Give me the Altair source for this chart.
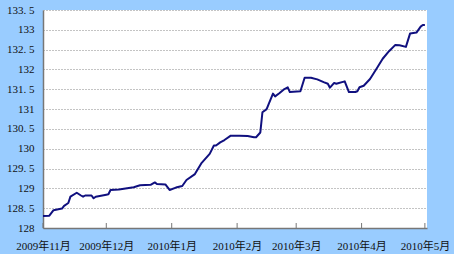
import altair as alt
import pandas as pd

dates = [
    "2009-11-01", "2009-11-04", "2009-11-06", "2009-11-10", "2009-11-11", "2009-11-13",
    "2009-11-14", "2009-11-17", "2009-11-19", "2009-11-20", "2009-11-21", "2009-11-24",
    "2009-11-25", "2009-11-26", "2009-12-01", "2009-12-02", "2009-12-03", "2009-12-07",
    "2009-12-14", "2009-12-17", "2009-12-22", "2009-12-24", "2009-12-25", "2009-12-29",
    "2009-12-31", "2010-01-03", "2010-01-06", "2010-01-08", "2010-01-12", "2010-01-15",
    "2010-01-19", "2010-01-21", "2010-01-22", "2010-01-24", "2010-01-26", "2010-01-29",
    "2010-02-02", "2010-02-06", "2010-02-09", "2010-02-10", "2010-02-12", "2010-02-13",
    "2010-02-15", "2010-02-16", "2010-02-18", "2010-02-19", "2010-02-21", "2010-02-23",
    "2010-02-25", "2010-02-26", "2010-03-03", "2010-03-05", "2010-03-08", "2010-03-11",
    "2010-03-14", "2010-03-16", "2010-03-17", "2010-03-19", "2010-03-20", "2010-03-24",
    "2010-03-26", "2010-03-29", "2010-03-30", "2010-03-31", "2010-04-02", "2010-04-05",
    "2010-04-08", "2010-04-11", "2010-04-14", "2010-04-17", "2010-04-19", "2010-04-22",
    "2010-04-24", "2010-04-27", "2010-04-29", "2010-04-30", "2010-05-01",
]
values = [
    128.30, 128.31, 128.45, 128.49, 128.56, 128.63,
    128.79, 128.89, 128.82, 128.79, 128.82, 128.82,
    128.75, 128.79, 128.84, 128.85, 128.96, 128.97,
    129.03, 129.08, 129.09, 129.15, 129.11, 129.10,
    128.96, 129.02, 129.06, 129.21, 129.36, 129.63,
    129.87, 130.08, 130.08, 130.16, 130.22, 130.33,
    130.33, 130.32, 130.29, 130.29, 130.41, 130.92,
    131.00, 131.13, 131.39, 131.32, 131.40, 131.49,
    131.55, 131.43, 131.45, 131.79, 131.79, 131.75,
    131.68, 131.64, 131.54, 131.66, 131.64, 131.70,
    131.43, 131.43, 131.45, 131.55, 131.59, 131.76,
    132.01, 132.27, 132.46, 132.62, 132.61, 132.57,
    132.91, 132.93, 133.08, 133.12, 133.12,
]
month_ticks = ["2009-11-01", "2009-12-01", "2010-01-01", "2010-02-01",
               "2010-03-01", "2010-04-01", "2010-05-01"]
y_ticks = [128, 128.5, 129, 129.5, 130, 130.5, 131, 131.5, 132, 132.5, 133, 133.5]

df = pd.DataFrame({"date": [d + "T00:00:00" for d in dates], "value": values})
ticks_df = pd.DataFrame({"date": [d + "T00:00:00" for d in month_ticks]})

FONT = "Liberation Serif, Noto Sans CJK SC"

x_scale = alt.Scale(domain=[alt.DateTime(year=2009, month=11, date=1),
                            alt.DateTime(year=2010, month=5, date=2)])

tick_vals = []
for d in month_ticks:
    y, m, dd = d.split("-")
    tick_vals.append(alt.DateTime(year=int(y), month=int(m), date=int(dd)))

line = alt.Chart(df).mark_line(color="#10107f", strokeWidth=2, strokeJoin="round").encode(
    x=alt.X("date:T", scale=x_scale,
            axis=alt.Axis(values=tick_vals, title=None, grid=False, ticks=False,
                          labelExpr="year(datum.value) + '年' + (month(datum.value) + 1) + '月'",
                          labelFont=FONT, labelFontSize=11, labelColor="#111",
                          labelPadding=12, labelAngle=0, labelFlush=False,
                          domainColor="#777", domainWidth=1.5, labelOverlap=False)),
    y=alt.Y("value:Q", scale=alt.Scale(domain=[128, 133.5], nice=False, zero=False),
            axis=alt.Axis(values=y_ticks, title=None, ticks=False, grid=True,
                          gridColor="#888", gridDash=[1, 2], gridWidth=1,
                          labelExpr="datum.value % 1 == 0 ? format(datum.value, 'd') : replace(format(datum.value, '.1f'), '.', '. ')",
                          labelFont=FONT, labelFontSize=11, labelColor="#111",
                          labelPadding=9, domainColor="#777", domainWidth=1.5)),
)

ticks = alt.Chart(ticks_df).mark_rule(color="#777", strokeWidth=1).encode(
    x=alt.X("date:T", scale=x_scale),
    y=alt.value(218),
    y2=alt.value(213),
)

chart = alt.layer(line, ticks).properties(
    width=384, height=218,
    background="#99ccff",
    padding={"left": 43, "top": 10, "right": 27, "bottom": 26},
    autosize=alt.AutoSizeParams(type="none"),
).configure_view(fill="white", stroke=None)

chart.save("out.html", embed_options={"renderer": "svg", "actions": False})
